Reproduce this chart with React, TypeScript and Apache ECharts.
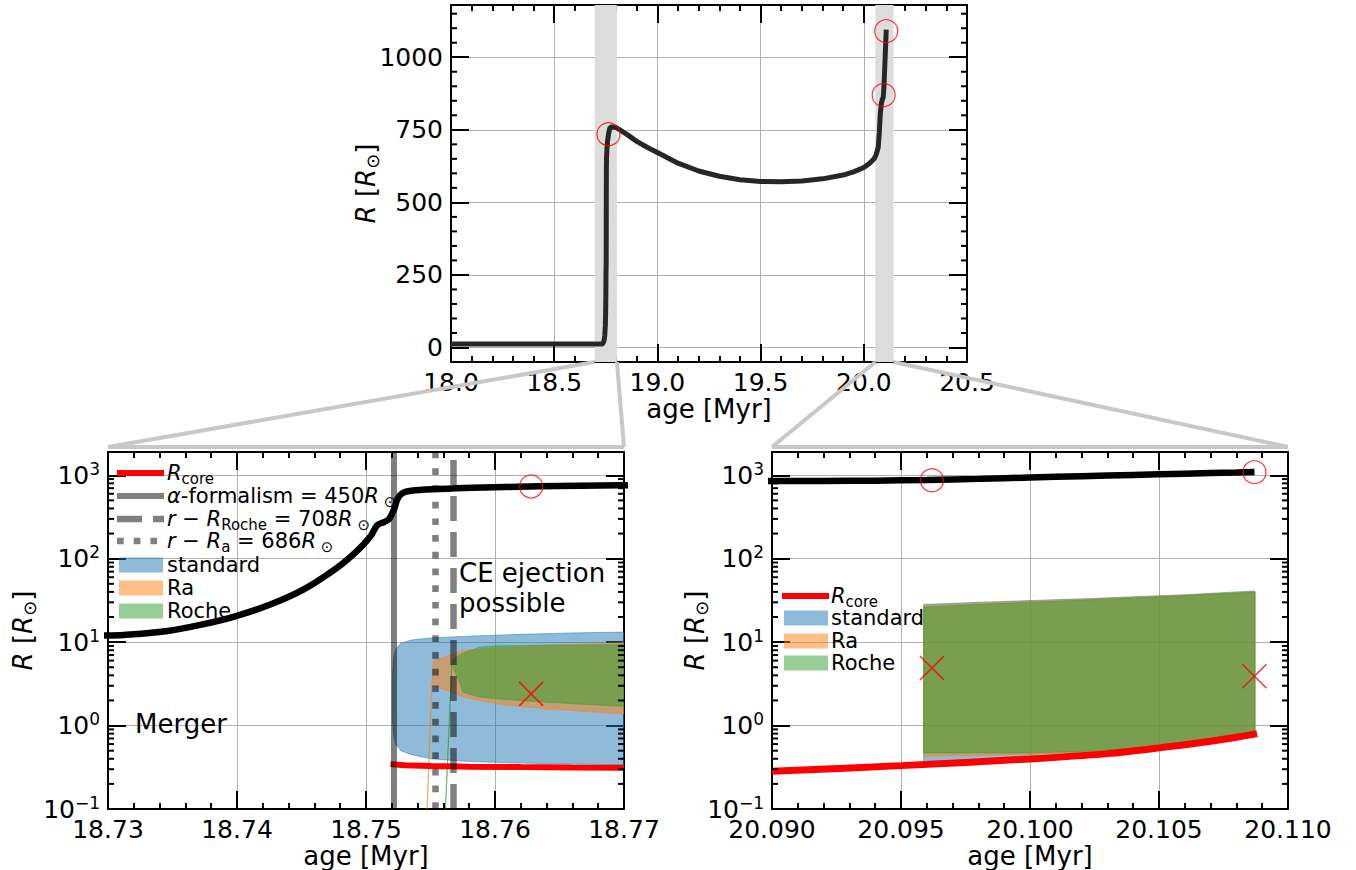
import React, { useEffect, useRef } from 'react';
import * as echarts from 'echarts';

// ---------------- data ----------------
// stellar radius vs age (shared by all three panels)
const ageMain = [18.0, 18.1, 18.2, 18.3, 18.4, 18.5, 18.6, 18.7, 18.72,
  18.73016, 18.732, 18.73462, 18.73724, 18.73986, 18.74248, 18.7451, 18.74772, 18.74929, 18.75035,
  18.75087, 18.7514, 18.75178, 18.75218, 18.75244, 18.75284, 18.75349, 18.75559, 18.75821, 18.76345, 18.76974,
  18.78, 18.8, 18.85, 18.9, 18.95, 19.0, 19.1, 19.2, 19.3, 19.4, 19.5, 19.6, 19.7, 19.8, 19.9, 19.95,
  20.0, 20.03, 20.05, 20.06, 20.07, 20.075, 20.08, 20.085,
  20.09, 20.092, 20.094, 20.096, 20.098, 20.1, 20.102, 20.104, 20.106, 20.108, 20.1087];
const radiusMain = [12, 12, 12, 12, 12, 12, 12, 12, 12,
  12.0, 12.4, 13.6, 16.2, 20.4, 27.8, 42.2, 77, 123, 186,
  251, 275, 297, 392, 518, 611, 653, 684, 710, 736, 757,
  760, 758, 735, 710, 690, 672, 635, 608, 590, 578, 572, 571, 574, 581, 594, 605,
  620, 636, 650, 665, 690, 740, 805, 840,
  855, 855, 862, 880, 905, 940, 975, 1010, 1045, 1080, 1095];

// core radius
const coreAgeL = [18.7519, 18.753, 18.755, 18.758, 18.762, 18.766, 18.77];
const coreRL = [0.345, 0.335, 0.328, 0.322, 0.318, 0.315, 0.313];
const coreAgeR = [20.09, 20.095, 20.1, 20.103, 20.105, 20.107, 20.108, 20.1088];
const coreRR = [0.283, 0.331, 0.398, 0.461, 0.54, 0.649, 0.724, 0.8];

// CE ejection possible ranges, first merger window
const stdAgeL = [18.75205, 18.75215, 18.7523, 18.7527, 18.7535, 18.755, 18.758, 18.762, 18.766, 18.77];
const stdLoL = [1.2, 0.75, 0.6, 0.5, 0.45, 0.4, 0.37, 0.355, 0.345, 0.34];
const stdHiL = [4.0, 6.5, 8.3, 9.7, 10.6, 11.2, 11.8, 12.4, 12.9, 13.2];
const raAgeL = [18.7547, 18.7551, 18.75522, 18.757, 18.7575, 18.7601, 18.764, 18.77];
const raLoL = [0.07, 2.9, 3.0, 2.4, 2.2, 1.82, 1.58, 1.38];
const raHiL = [0.072, 3.0, 6.0, 7.4, 7.9, 8.5, 9.2, 9.8];
const rocheAgeL = [18.75612, 18.75665, 18.75677, 18.75754, 18.7588, 18.7601, 18.764, 18.77];
const rocheLoL = [0.07, 5.3, 5.0, 2.5, 2.2, 2.1, 1.9, 1.7];
const rocheHiL = [0.072, 5.5, 6.3, 7.4, 8.7, 9.0, 9.2, 9.3];

// second window
const bandAgeR = [20.09588, 20.098, 20.1, 20.102, 20.104, 20.106, 20.108, 20.10872];
const stdLoR = [0.37, 0.39, 0.41, 0.45, 0.5, 0.57, 0.68, 0.78];
const stdHiR = [28.3, 30, 31.5, 33, 35, 37, 40, 41];
const raLoR = [0.43, 0.44, 0.45, 0.48, 0.52, 0.59, 0.7, 0.8];
const raHiR = [27.5, 29.3, 30.9, 32.4, 34.4, 36.5, 39.3, 40.2];
const rocheLoR = [0.47, 0.47, 0.47, 0.49, 0.53, 0.6, 0.71, 0.81];
const rocheHiR = [26.3, 28.3, 30, 31.8, 33.8, 36, 38.8, 39.5];

// markers
const circleAgeTop = [18.7628, 20.0962, 20.1087];
const circleRTop = [735, 870, 1090];
const circleAgeL = [18.7628];
const circleRL = [735];
const crossAgeL = [18.7628];
const crossRL = [2.4];
const circleAgeR = [20.0962, 20.1087];
const circleRR = [870, 1090];
const crossAgeR = [20.0962, 20.1087];
const crossRR = [4.9, 3.9];

// vertical reference ages
const alphaAge = 18.75212;
const rocheAge = 18.75677;
const raAge = 18.75533;

// zoom windows
const zoomWindows = [[18.73, 18.77], [20.09, 20.11]];

// axes / ticks
const topYTicks = [0, 250, 500, 750, 1000];
const topYMinor = [-50, 50, 100, 150, 200, 300, 350, 400, 450, 550, 600, 650, 700, 800, 850, 900, 950, 1050, 1100, 1150];
const logMinor = [0.2, 0.3, 0.4, 0.5, 0.6, 0.7, 0.8, 0.9, 2, 3, 4, 5, 6, 7, 8, 9,
  20, 30, 40, 50, 60, 70, 80, 90, 200, 300, 400, 500, 600, 700, 800, 900];
const TOP_Y = [-50, 1180];
const LOG_Y = [0.1, 1900];

// ---------------- styling ----------------
const FONT = 'DejaVu Sans';
const BLACK = '#000';
const axisLineStyle = { color: BLACK, width: 2 };
const tickStyle = { color: BLACK, width: 2 };
const gridLine = { show: true, lineStyle: { color: '#b0b0b0', width: 1 } };
const C_STD = 'rgba(31,119,180,0.5)';
const C_RA = 'rgba(255,127,14,0.5)';
const C_ROCHE = 'rgba(44,160,44,0.5)';
const C_VLINE = 'rgba(0,0,0,0.5)';
const DASH = [25, 11];
const DOT = [6.7, 10];

const GRIDS = [
  { left: 451, top: 5, width: 516, height: 357 },
  { left: 108, top: 452, width: 516, height: 360 },
  { left: 772, top: 452, width: 516, height: 360 },
];

const yNameText = '{i|R} [{i|R}{s|\u2299}]';
const yNameStyle = {
  fontFamily: FONT, fontSize: 26, color: BLACK, lineHeight: 30,
  rich: {
    i: { fontFamily: FONT, fontSize: 26, fontStyle: 'italic', color: BLACK, lineHeight: 30 },
    s: { fontFamily: FONT, fontSize: 18, color: BLACK, lineHeight: 12, verticalAlign: 'bottom' },
  },
};

const logFmt = (v: number) => {
  const e = Math.log10(v);
  const r = Math.round(e);
  if (Math.abs(e - r) > 1e-6) return '';
  return `{b|10}{sup|${r < 0 ? '\u2212' + -r : r}}`;
};
const logRich = {
  b: { fontFamily: FONT, fontSize: 25, color: BLACK, lineHeight: 30 },
  sup: { fontFamily: FONT, fontSize: 17, color: BLACK, lineHeight: 14, verticalAlign: 'top' },
};

function makeXAxes(gridIndex: number, min: number, max: number, interval: number, digits: number) {
  const base: any = {
    type: 'value', gridIndex, min, max, interval,
    axisLine: { show: true, onZero: false, lineStyle: axisLineStyle },
    axisTick: { show: true, inside: true, length: 18, lineStyle: tickStyle },
    minorTick: { show: true, splitNumber: 5, length: 6, lineStyle: tickStyle },
  };
  return [
    {
      ...base, position: 'bottom', splitLine: gridLine,
      axisLabel: { show: true, fontFamily: FONT, fontSize: 25, color: BLACK, margin: 8, formatter: (v: number) => v.toFixed(digits) },
      name: 'age [Myr]', nameLocation: 'middle', nameGap: 34, nameMoveOverlap: false,
      nameTextStyle: { fontFamily: FONT, fontSize: 26, color: BLACK },
    },
    { ...base, position: 'top', splitLine: { show: false }, axisLabel: { show: false } },
  ];
}

function makeLogYAxes(gridIndex: number, nameGap: number) {
  const base: any = {
    type: 'log', logBase: 10, gridIndex, min: LOG_Y[0], max: LOG_Y[1],
    axisLine: { show: true, onZero: false, lineStyle: axisLineStyle },
    axisTick: { show: true, inside: true, length: 18, lineStyle: tickStyle },
    minorTick: { show: false },
  };
  return [
    {
      ...base, position: 'left', splitLine: gridLine,
      axisLabel: { show: true, margin: 8, formatter: logFmt, rich: logRich, fontFamily: FONT, fontSize: 25, color: BLACK },
      name: yNameText, nameLocation: 'middle', nameGap, nameMoveOverlap: false, nameTextStyle: yNameStyle,
    },
    { ...base, position: 'right', splitLine: { show: false }, axisLabel: { show: false } },
  ];
}

function makeTopYAxes() {
  const base: any = {
    type: 'value', gridIndex: 0, min: TOP_Y[0], max: TOP_Y[1],
    axisLine: { show: true, onZero: false, lineStyle: axisLineStyle },
    axisTick: { show: true, inside: true, length: 18, lineStyle: tickStyle, customValues: topYTicks },
    minorTick: { show: false },
  };
  return [
    {
      ...base, position: 'left', splitLine: gridLine,
      axisLabel: { show: true, margin: 8, fontFamily: FONT, fontSize: 25, color: BLACK, customValues: topYTicks, formatter: (v: number) => String(v) },
      name: yNameText, nameLocation: 'middle', nameGap: 70, nameMoveOverlap: false, nameTextStyle: yNameStyle,
    },
    { ...base, position: 'right', splitLine: { show: false }, axisLabel: { show: false } },
  ];
}

function minorTickSeries(xi: number, yi: number, xMin: number, values: number[]) {
  return {
    type: 'custom', xAxisIndex: xi, yAxisIndex: yi, silent: true, clip: false, z: 6,
    data: values.map((v) => [xMin, v]),
    encode: { x: 0, y: 1 },
    renderItem: (params: any, api: any) => {
      const cs = params.coordSys;
      const y = api.coord([api.value(0), api.value(1)])[1];
      const st = { stroke: BLACK, lineWidth: 2 };
      return {
        type: 'group',
        children: [
          { type: 'line', shape: { x1: cs.x, y1: y, x2: cs.x + 6, y2: y }, style: st },
          { type: 'line', shape: { x1: cs.x + cs.width - 6, y1: y, x2: cs.x + cs.width, y2: y }, style: st },
        ],
      };
    },
  };
}

function bandSeries(xi: number, yi: number, xs: number[], lo: number[], hi: number[], color: string) {
  return {
    type: 'custom', xAxisIndex: xi, yAxisIndex: yi, silent: true, clip: true, z: 2,
    data: xs.map((x, i) => [x, lo[i], hi[i]]),
    encode: { x: 0, y: [1, 2] },
    renderItem: (params: any, api: any) => {
      if (params.dataIndex !== 0) return { type: 'group', children: [] };
      const top = xs.map((x, i) => api.coord([x, hi[i]]));
      const bot = xs.map((x, i) => api.coord([x, lo[i]])).reverse();
      return {
        type: 'polygon', shape: { points: top.concat(bot) },
        style: { fill: color, stroke: color, lineWidth: 1 },
      };
    },
  };
}

const pairs = (a: number[], b: number[]) => a.map((x, i) => [x, b[i]]);

function circleSeries(xi: number, yi: number, xs: number[], ys: number[]) {
  return {
    type: 'scatter', xAxisIndex: xi, yAxisIndex: yi, silent: true, z: 8,
    data: pairs(xs, ys), symbol: 'circle', symbolSize: 23,
    itemStyle: { color: 'rgba(0,0,0,0)', borderColor: '#ff0000', borderWidth: 1.2 },
  };
}
function crossSeries(xi: number, yi: number, xs: number[], ys: number[]) {
  return {
    type: 'scatter', xAxisIndex: xi, yAxisIndex: yi, silent: true, z: 8,
    data: pairs(xs, ys), symbol: 'path://M0 0L20 20M20 0L0 20', symbolSize: 24,
    itemStyle: { color: 'rgba(0,0,0,0)', borderColor: '#ff0000', borderWidth: 1.6 },
  };
}

function buildOption() {
  const mainData = pairs(ageMain, radiusMain);
  return {
    animation: false,
    backgroundColor: '#fff',
    grid: GRIDS.map((g) => ({ ...g, containLabel: false })),
    xAxis: [
      ...makeXAxes(0, 18, 20.5, 0.5, 1),
      ...makeXAxes(1, 18.73, 18.77, 0.01, 2),
      ...makeXAxes(2, 20.09, 20.11, 0.005, 3),
    ],
    yAxis: [...makeTopYAxes(), ...makeLogYAxes(1, 70), ...makeLogYAxes(2, 62)],
    series: [
      // top panel
      {
        type: 'line', xAxisIndex: 0, yAxisIndex: 0, data: mainData, symbol: 'none', silent: true, z: 4,
        lineStyle: { color: '#262626', width: 5 },
      },
      circleSeries(0, 0, circleAgeTop, circleRTop),
      minorTickSeries(0, 0, 18, topYMinor),

      // bottom-left
      bandSeries(2, 2, stdAgeL, stdLoL, stdHiL, C_STD),
      bandSeries(2, 2, raAgeL, raLoL, raHiL, C_RA),
      bandSeries(2, 2, rocheAgeL, rocheLoL, rocheHiL, C_ROCHE),
      {
        type: 'line', xAxisIndex: 2, yAxisIndex: 2, data: mainData, symbol: 'none', silent: true, z: 4,
        smooth: 0.3,
        lineStyle: { color: BLACK, width: 6.5 },
      },
      {
        type: 'line', xAxisIndex: 2, yAxisIndex: 2, data: pairs(coreAgeL, coreRL), symbol: 'none', silent: true, z: 4,
        lineStyle: { color: '#ff0000', width: 6 },
        markLine: {
          silent: true, symbol: ['none', 'none'], label: { show: false }, precision: 6,
          data: [
            { xAxis: alphaAge, lineStyle: { color: C_VLINE, width: 6, type: 'solid' } },
            { xAxis: rocheAge, lineStyle: { color: C_VLINE, width: 6.5, type: DASH } },
            { xAxis: raAge, lineStyle: { color: C_VLINE, width: 6.5, type: DOT } },
          ],
        },
      },
      circleSeries(2, 2, circleAgeL, circleRL),
      crossSeries(2, 2, crossAgeL, crossRL),
      minorTickSeries(2, 2, 18.73, logMinor),

      // bottom-right
      bandSeries(4, 4, bandAgeR, stdLoR, stdHiR, C_STD),
      bandSeries(4, 4, bandAgeR, raLoR, raHiR, C_RA),
      bandSeries(4, 4, bandAgeR, rocheLoR, rocheHiR, C_ROCHE),
      {
        type: 'line', xAxisIndex: 4, yAxisIndex: 4, data: mainData, symbol: 'none', silent: true, z: 4,
        smooth: 0.3,
        lineStyle: { color: BLACK, width: 6.5 },
      },
      {
        type: 'line', xAxisIndex: 4, yAxisIndex: 4, data: pairs(coreAgeR, coreRR), symbol: 'none', silent: true, z: 4,
        smooth: 0.3,
        lineStyle: { color: '#ff0000', width: 7 },
      },
      circleSeries(4, 4, circleAgeR, circleRR),
      crossSeries(4, 4, crossAgeR, crossRR),
      minorTickSeries(4, 4, 20.09, logMinor),
    ],
  };
}

const legendRich = {
  i: { fontFamily: FONT, fontSize: 21, fontStyle: 'italic', fill: BLACK, lineHeight: 26 },
  n: { fontFamily: FONT, fontSize: 21, fill: BLACK, lineHeight: 26 },
  s: { fontFamily: FONT, fontSize: 15, fill: BLACK, lineHeight: 10, verticalAlign: 'bottom' },
};

function legendText(x: number, y: number, text: string) {
  return {
    type: 'text', x, y, z: 20,
    style: { text, rich: legendRich, fontFamily: FONT, fontSize: 21, fill: BLACK, align: 'left', verticalAlign: 'middle', lineHeight: 26 },
  };
}
function legendLine(x1: number, x2: number, y: number, stroke: string, width: number, dash?: number[]) {
  return {
    type: 'line', z: 20,
    shape: { x1, y1: y, x2, y2: y },
    style: { stroke, lineWidth: width, lineDash: dash || null },
  };
}
function legendPatch(x: number, y: number, color: string) {
  return { type: 'rect', z: 20, shape: { x, y: y - 7.5, width: 44, height: 15 }, style: { fill: color } };
}

function buildGraphics(chart: any) {
  const px = (xi: number, yi: number, p: number[]) => chart.convertToPixel({ xAxisIndex: xi, yAxisIndex: yi }, p);
  const g: any[] = [];
  const HALF = 7;
  zoomWindows.forEach(([a, b], k) => {
    const p0 = px(0, 0, [a, TOP_Y[1]]);
    const p1 = px(0, 0, [b, TOP_Y[0]]);
    g.push({
      type: 'rect', z: 1, silent: true,
      shape: { x: p0[0] - HALF, y: p0[1], width: p1[0] - p0[0] + 2 * HALF, height: p1[1] - p0[1] },
      style: { fill: '#dcdcdc' },
    });
    const xi = 2 + 2 * k;
    const c0 = px(xi, xi, [a, LOG_Y[1]]);
    const c1 = px(xi, xi, [b, LOG_Y[1]]);
    const yy = c0[1] - 5;
    const st = { stroke: '#c8c8c8', lineWidth: 4 };
    g.push({ type: 'line', z: 1, silent: true, shape: { x1: p0[0] - HALF, y1: p1[1], x2: c0[0], y2: yy }, style: st });
    g.push({ type: 'line', z: 1, silent: true, shape: { x1: p1[0] + HALF, y1: p1[1], x2: c1[0], y2: yy }, style: st });
    g.push({ type: 'line', z: 1, silent: true, shape: { x1: c0[0], y1: yy, x2: c1[0], y2: yy }, style: st });
  });

  // annotations
  const ce = px(2, 2, [18.75721, 44]);
  g.push({
    type: 'text', x: ce[0], y: ce[1], z: 20,
    style: { text: 'CE ejection\npossible', fontFamily: FONT, fontSize: 26, fill: BLACK, align: 'left', verticalAlign: 'middle', lineHeight: 30 },
  });
  const mg = px(2, 2, [18.7321, 1.03]);
  g.push({
    type: 'text', x: mg[0], y: mg[1], z: 20,
    style: { text: 'Merger', fontFamily: FONT, fontSize: 26, fill: BLACK, align: 'left', verticalAlign: 'middle' },
  });

  // legend bottom-left
  const L = { x1: 117, x2: 164, tx: 167, rows: [473, 496, 519, 541, 565, 588, 611] };
  g.push(legendLine(L.x1, L.x2, L.rows[0], '#ff0000', 6));
  g.push(legendText(L.tx, L.rows[0], '{i|R}{s|core}'));
  g.push(legendLine(L.x1, L.x2, L.rows[1], C_VLINE, 6));
  g.push(legendText(L.tx, L.rows[1], '{i|\u03b1}{n|-formalism = 450}{i|R}{s| \u2299}'));
  g.push(legendLine(L.x1, L.x2, L.rows[2], C_VLINE, 6.5, DASH));
  g.push(legendText(L.tx, L.rows[2], '{i|r}{n| \u2212 }{i|R}{s|Roche}{n| = 708}{i|R}{s| \u2299}'));
  g.push(legendLine(L.x1, L.x2, L.rows[3], C_VLINE, 6.5, DOT));
  g.push(legendText(L.tx, L.rows[3], '{i|r}{n| \u2212 }{i|R}{s|a}{n| = 686}{i|R}{s| \u2299}'));
  g.push(legendPatch(119, L.rows[4], C_STD));
  g.push(legendText(L.tx, L.rows[4], '{n|standard}'));
  g.push(legendPatch(119, L.rows[5], C_RA));
  g.push(legendText(L.tx, L.rows[5], '{n|Ra}'));
  g.push(legendPatch(119, L.rows[6], C_ROCHE));
  g.push(legendText(L.tx, L.rows[6], '{n|Roche}'));

  // legend bottom-right
  const R = { x1: 782, x2: 829, tx: 831, rows: [596, 618, 641, 663] };
  g.push(legendLine(R.x1, R.x2, R.rows[0], '#ff0000', 6));
  g.push(legendText(R.tx, R.rows[0], '{i|R}{s|core}'));
  g.push(legendPatch(784, R.rows[1], C_STD));
  g.push(legendText(R.tx, R.rows[1], '{n|standard}'));
  g.push(legendPatch(784, R.rows[2], C_RA));
  g.push(legendText(R.tx, R.rows[2], '{n|Ra}'));
  g.push(legendPatch(784, R.rows[3], C_ROCHE));
  g.push(legendText(R.tx, R.rows[3], '{n|Roche}'));
  return g;
}

export default function App() {
  const ref = useRef<HTMLDivElement>(null);
  useEffect(() => {
    const chart = echarts.init(ref.current as HTMLDivElement, null, { renderer: 'svg' });
    chart.setOption(buildOption() as any);
    chart.setOption({ graphic: buildGraphics(chart) } as any);
    return () => chart.dispose();
  }, []);
  return (
    <div
      ref={ref}
      style={{ position: 'fixed', left: 0, top: 0, width: 1356, height: 870, background: '#fff' }}
    />
  );
}
